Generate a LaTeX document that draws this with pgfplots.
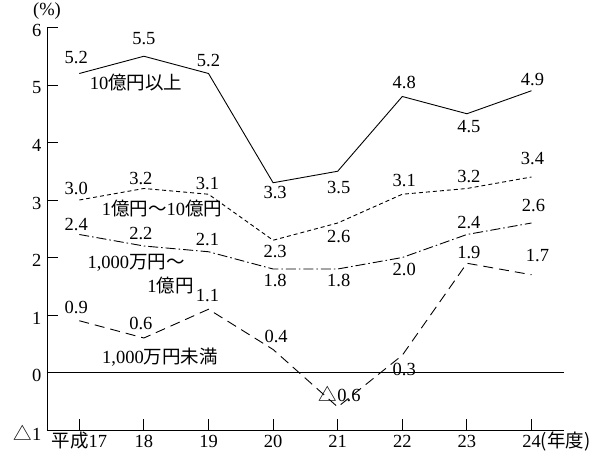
\documentclass[border=0pt]{standalone}
\usepackage{fontspec}
\usepackage{pgfplots}
\pgfplotsset{compat=1.18}
\setmainfont{Liberation Serif}
\newfontfamily\cjk{Noto Sans CJK JP}
\newcommand{\fs}{\fontsize{18.5bp}{21bp}\selectfont}
% value label: x, y, shift right, shift down (bp), text
\newcommand{\lab}[5]{\node[font=\fs, inner sep=0pt] at (axis cs:#1,#2) [xshift=#3bp, yshift=-#4bp] {#5};}
\begin{document}
\begin{tikzpicture}
\useasboundingbox (-47bp,-29bp) rectangle (567bp,430bp);
\begin{axis}[
  x=64.6bp, y=57.5bp,
  xmin=16.5, xmax=24.5, ymin=-1, ymax=6,
  axis x line=bottom, axis y line=left,
  axis line style={-, line width=0.9pt},
  xtick={17,...,24},
  xticklabels={{\cjk 平成}17,18,19,20,21,22,23,24\rlap{\cjk (年度)}},
  ytick={-1,0,...,6},
  yticklabels={{\cjk △}1,0,1,2,3,4,5,6},
  tick align=inside,
  major tick length=11bp,
  tick style={line width=0.9pt, black},
  every tick label/.append style={font=\fs},
  yticklabel style={xshift=-2bp, yshift=-3bp},
  xticklabel style={text height=13bp, text depth=3bp, yshift=-1bp},
  clip=false,
]
% zero line
\addplot[black, line width=0.9pt] coordinates {(16.5,0) (24.5,0)};
% 10億円以上
\addplot[black, line width=0.9pt] coordinates {
  (17,5.2) (18,5.5) (19,5.2) (20,3.3) (21,3.5) (22,4.8) (23,4.5) (24,4.9)};
% 1億円～10億円
\addplot[black, line width=0.9pt, dash pattern=on 4bp off 3bp] coordinates {
  (17,3.0) (18,3.2) (19,3.1) (20,2.3) (21,2.6) (22,3.1) (23,3.2) (24,3.4)};
% 1,000万円～1億円
\addplot[black, line width=0.9pt, dash pattern=on 10bp off 3bp on 1.5bp off 3bp] coordinates {
  (17,2.4) (18,2.2) (19,2.1) (20,1.8) (21,1.8) (22,2.0) (23,2.4) (24,2.6)};
% 1,000万円未満
\addplot[black, line width=0.9pt, dash pattern=on 10bp off 6bp] coordinates {
  (17,0.9) (18,0.6) (19,1.1) (20,0.4) (21,-0.6) (22,0.3) (23,1.9) (24,1.7)};

% values, 10億円以上
\lab{17}{5.2}{-3}{-16}{5.2}
\lab{18}{5.5}{0}{-18}{5.5}
\lab{19}{5.2}{0}{-13}{5.2}
\lab{20}{3.3}{2}{10}{3.3}
\lab{21}{3.5}{1}{16}{3.5}
\lab{22}{4.8}{2}{-14}{4.8}
\lab{23}{4.5}{2}{13}{4.5}
\lab{24}{4.9}{1}{-11}{4.9}
% values, 1億円～10億円
\lab{17}{3.0}{-3}{-12}{3.0}
\lab{18}{3.2}{-3}{-10}{3.2}
\lab{19}{3.1}{-1}{-11}{3.1}
\lab{20}{2.3}{2}{11}{2.3}
\lab{21}{2.6}{1}{14}{2.6}
\lab{22}{3.1}{2}{-14}{3.1}
\lab{23}{3.2}{2}{-12}{3.2}
\lab{24}{3.4}{1}{-18}{3.4}
% values, 1,000万円～1億円
\lab{17}{2.4}{-3}{-10}{2.4}
\lab{18}{2.2}{-3}{-12}{2.2}
\lab{19}{2.1}{-1}{-12}{2.1}
\lab{20}{1.8}{2}{11}{1.8}
\lab{21}{1.8}{1}{11}{1.8}
\lab{22}{2.0}{2}{12}{2.0}
\lab{23}{2.4}{2}{-12}{2.4}
\lab{24}{2.6}{2}{-17}{2.6}
% values, 1,000万円未満
\lab{17}{0.9}{-3}{-13}{0.9}
\lab{18}{0.6}{-3}{-15}{0.6}
\lab{19}{1.1}{-1}{-14}{1.1}
\lab{20}{0.4}{3}{-13}{0.4}
\lab{21}{-0.6}{2}{-13}{{\cjk △}0.6}
\lab{22}{0.3}{2}{14}{0.3}
\lab{23}{1.9}{2}{-11}{1.9}
\lab{24}{1.7}{6}{-19}{1.7}

% series names
\node[font=\fs] at (axis cs:17.88,5.04) {10{\cjk 億円以上}};
\node[font=\fs] at (axis cs:18.28,2.85) {1{\cjk 億円～}10{\cjk 億円}};
\node[font=\fs] at (axis cs:17.88,1.91) {1,000{\cjk 万円～}};
\node[font=\fs] at (axis cs:18.41,1.51) {1{\cjk 億円}};
\node[font=\fs] at (axis cs:18.25,0.26) {1,000{\cjk 万円未満}};
% unit
\node[font=\fs] at (rel axis cs:0,1) [yshift=16bp] {(\%)};
\end{axis}
\end{tikzpicture}
\end{document}
